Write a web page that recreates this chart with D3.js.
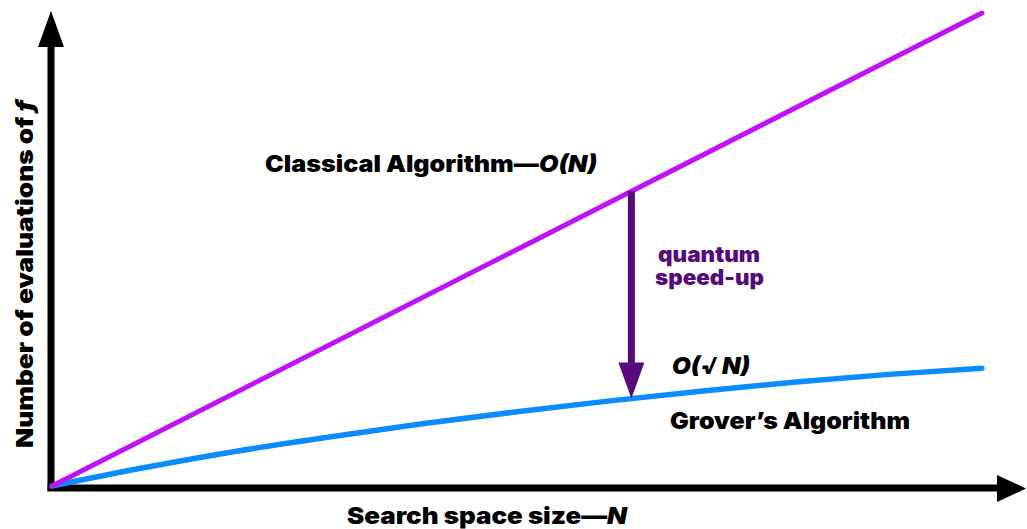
<!DOCTYPE html>
<html>
<head>
<meta charset="utf-8">
<script src="https://cdn.jsdelivr.net/npm/d3@7"></script>
<style>
  body { margin: 0; background: #fff; }
  text { font-family: Inter, "Noto Sans", sans-serif; font-weight: 900; }
</style>
</head>
<body>
<svg width="1027" height="529"></svg>
<script>
// values (N and evaluations in relative units 0-100)
const classicalN = [0, 100];
const classicalY = [0, 100];
const groverN = [0, 10, 20, 30, 40, 50, 60, 70, 80, 90, 100];
const groverY = [0, 3.9, 7.4, 10.4, 13.2, 15.7, 18.0, 20.1, 22.0, 23.6, 24.9];
const speedupN = 62.3;

const svg = d3.select("svg");

const x = d3.scaleLinear().domain([0, 100]).range([52, 982]);
const y = d3.scaleLinear().domain([0, 100]).range([486, 13]);

const line = d3.line()
    .x(d => x(d[0]))
    .y(d => y(d[1]))
    .curve(d3.curveMonotoneX);

// axes with arrowheads
const axisColor = "#000";
svg.append("line")
    .attr("x1", 51).attr("y1", 491)
    .attr("x2", 51).attr("y2", 40)
    .attr("stroke", axisColor).attr("stroke-width", 7);
svg.append("path")
    .attr("d", "M38,47L51,11L64,47Z")
    .attr("fill", axisColor);
svg.append("line")
    .attr("x1", 47.5).attr("y1", 488)
    .attr("x2", 1000).attr("y2", 488)
    .attr("stroke", axisColor).attr("stroke-width", 7);
svg.append("path")
    .attr("d", "M997,475L1026,488.5L997,502Z")
    .attr("fill", axisColor);

// grover curve
svg.append("path")
    .datum(groverN.map((n, i) => [n, groverY[i]]))
    .attr("d", line)
    .attr("fill", "none")
    .attr("stroke", "#0a8cff")
    .attr("stroke-width", 5.5)
    .attr("stroke-linecap", "round");

// classical line
svg.append("path")
    .datum(classicalN.map((n, i) => [n, classicalY[i]]))
    .attr("d", line)
    .attr("fill", "none")
    .attr("stroke", "#c012f7")
    .attr("stroke-width", 5)
    .attr("stroke-linecap", "round");

// speed-up arrow between the two curves
const groverAt = d3.scaleLinear().domain(groverN).range(groverY);
const ax = x(speedupN);
const yTop = y(speedupN);
const yTip = y(groverAt(speedupN));
const arrowColor = "#560a7c";
svg.append("line")
    .attr("x1", ax).attr("y1", yTop)
    .attr("x2", ax).attr("y2", yTip - 30)
    .attr("stroke", arrowColor).attr("stroke-width", 7);
svg.append("path")
    .attr("d", `M${ax - 13},${yTip - 36}L${ax},${yTip}L${ax + 13},${yTip - 36}Z`)
    .attr("fill", arrowColor);

svg.append("text")
    .attr("x", 658).attr("y", 262)
    .attr("fill", arrowColor)
    .attr("font-size", 21)
    .attr("font-weight", 700)
    .attr("textLength", 102).attr("lengthAdjust", "spacingAndGlyphs")
    .text("quantum");
svg.append("text")
    .attr("x", 655).attr("y", 285)
    .attr("fill", arrowColor)
    .attr("font-size", 21)
    .attr("font-weight", 700)
    .attr("textLength", 109).attr("lengthAdjust", "spacingAndGlyphs")
    .text("speed-up");

// labels
const classical = svg.append("text")
    .attr("x", 265).attr("y", 172)
    .attr("font-size", 23)
    .attr("textLength", 332).attr("lengthAdjust", "spacingAndGlyphs")
    .attr("fill", "#000");
classical.append("tspan").text("Classical Algorithm\u2014");
classical.append("tspan").attr("font-style", "italic").text("O(N)");

svg.append("text")
    .attr("x", 672).attr("y", 374)
    .attr("font-size", 23)
    .attr("font-style", "italic")
    .attr("textLength", 78).attr("lengthAdjust", "spacingAndGlyphs")
    .text("O(\u221A N)");

svg.append("text")
    .attr("x", 670).attr("y", 429)
    .attr("font-size", 23)
    .attr("textLength", 240).attr("lengthAdjust", "spacingAndGlyphs")
    .text("Grover\u2019s Algorithm");

const xl = svg.append("text")
    .attr("x", 347).attr("y", 524)
    .attr("font-size", 23)
    .attr("textLength", 280).attr("lengthAdjust", "spacingAndGlyphs");
xl.append("tspan").text("Search space size\u2014");
xl.append("tspan").attr("font-style", "italic").text("N");

const yl = svg.append("text")
    .attr("transform", "translate(33,448) rotate(-90)")
    .attr("font-size", 23)
    .attr("textLength", 348).attr("lengthAdjust", "spacingAndGlyphs");
yl.append("tspan").text("Number of evaluations of ");
yl.append("tspan").attr("font-style", "italic").text("f");
</script>
</body>
</html>
